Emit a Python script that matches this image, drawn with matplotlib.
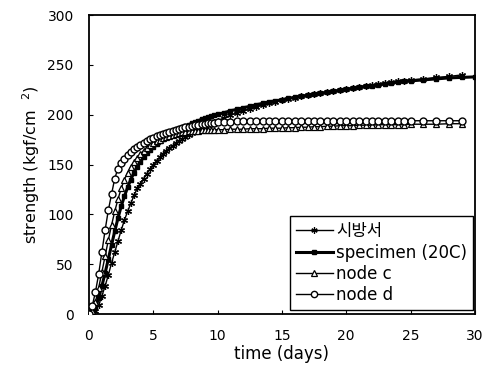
import matplotlib
matplotlib.use("Agg")
import matplotlib.pyplot as plt

plt.rcParams["font.family"] = ["DejaVu Sans", "Noto Sans CJK KR"]

# time (days), shared by all series
t_days = [0, 0.25, 0.5, 0.75, 1, 1.25, 1.5, 1.75, 2, 2.25, 2.5, 2.75, 3, 3.25, 3.5, 3.75,
          4, 4.25, 4.5, 4.75, 5, 5.25, 5.5, 5.75, 6, 6.25, 6.5, 6.75, 7, 7.25, 7.5, 7.75,
          8, 8.25, 8.5, 8.75, 9, 9.25, 9.5, 9.75, 10,
          10.5, 11, 11.5, 12, 12.5, 13, 13.5, 14, 14.5, 15, 15.5, 16, 16.5, 17, 17.5,
          18, 18.5, 19, 19.5, 20, 20.5, 21, 21.5, 22, 22.5, 23, 23.5, 24, 24.5, 25,
          26, 27, 28, 29]

sibangseo = [0, 0, 3, 9, 18, 28, 39, 51, 62, 73, 84, 94, 103, 111, 119, 126,
             131, 136, 141, 145.5, 150, 154, 157.5, 161, 164, 166.5, 169, 171.5, 173.5, 175.5, 177.5, 179.5,
             181.5, 183.5, 185, 186.5, 188, 189.5, 191, 192.5, 194,
             197, 199.5, 202, 204, 206, 208, 210, 211.5, 213, 214.5, 216, 217, 218.5, 219.5, 220.5,
             221.5, 222.5, 223.5, 224.5, 225.5, 226.5, 227.5, 228.5, 229.5, 230.5, 231.5, 232.5, 233.5, 234, 235,
             236, 237.5, 238.5, 240]

t_spec = t_days + [30]
specimen = [0, 1, 6, 16, 28, 41, 55, 69, 83, 96, 108, 118, 127, 135, 142, 148,
            153, 157.5, 161.5, 165, 168, 171, 173.5, 176, 178, 180, 182, 184, 185.5, 187, 188.5, 190,
            191.5, 193, 194, 195.5, 196.5, 197.5, 198.5, 199.5, 200.5,
            202, 204, 205.5, 207, 208.5, 210, 211.5, 213, 214, 215, 216.5, 217.5, 218.5, 219.5, 220.5,
            221.5, 222.5, 223.5, 224.5, 225.5, 226.5, 227.5, 228.5, 229, 230, 231, 232, 232.5, 233.5, 234,
            235, 236, 237, 237.5, 238]

node_c = [0, 3, 12, 26, 42, 58, 74, 89, 103, 115, 126, 135, 142, 148, 153, 157,
          161, 164, 167, 169.5, 171.5, 173.5, 175, 176.5, 178, 179, 180, 181, 182, 182.5, 183, 183.5,
          184, 184, 184, 184.5, 184.5, 184.5, 185, 185, 185,
          185, 185.5, 185.5, 185.5, 186, 186, 186, 186.5, 186.5, 186.5, 187, 187, 187.5, 187.5, 188,
          188, 188.5, 188.5, 189, 189, 189, 189.5, 189.5, 189.5, 190, 190, 190, 190, 190, 190.5,
          190.5, 190.5, 191, 191]

node_d = [0, 8, 22, 40, 62, 84, 104, 120, 136, 146, 152, 156, 160, 163, 166, 168,
          170, 172, 174, 175.5, 177, 178.5, 180, 181, 182, 183, 184, 185, 186, 187, 187.5, 188,
          189, 189.5, 190, 190.5, 191, 191.5, 192, 192, 192.5,
          193, 193, 193.5, 193.5, 193.5, 194, 194, 194, 194, 194, 194, 194, 194, 194, 194,
          194, 194, 194, 194, 194, 194, 194, 194, 194, 194, 194, 194, 194, 194, 194,
          194, 194, 194, 194]

fig = plt.figure(figsize=(4.85, 3.69), dpi=100)
ax = fig.add_axes([0.1835, 0.149, 0.7955, 0.81])

ax.plot(t_days, sibangseo, color="black", lw=1.0, marker=(6, 2, 0), ms=5, mew=0.9,
        label="시방서", zorder=2)
ax.plot(t_spec, specimen, color="black", lw=2.2, marker="s", ms=2.5,
        label="specimen (20C)", zorder=3)
ax.plot(t_days, node_c, color="black", lw=1.0, marker="^", ms=4.5, mfc="white", mew=0.9,
        label="node c", zorder=4)
ax.plot(t_days, node_d, color="black", lw=1.0, marker="o", ms=5, mfc="white", mew=1.0,
        label="node d", zorder=5)

ax.set_xlim(0, 30)
ax.set_ylim(0, 300)
ax.set_xticks([0, 5, 10, 15, 20, 25, 30])
ax.set_yticks([0, 50, 100, 150, 200, 250, 300])
ax.tick_params(direction="in", length=3, width=0.8, labelsize=10, pad=11)
for s in ax.spines.values():
    s.set_linewidth(1.3)

ax.set_xlabel("time (days)", fontsize=12, labelpad=1)
ax.set_ylabel("strength (kgf/cm  $^{2}$)", fontsize=11.5, labelpad=4)

leg = ax.legend(loc="lower right", bbox_to_anchor=(0.995, 0.013), borderaxespad=0,
                fontsize=12, handlelength=2.2, handletextpad=0.2, labelspacing=0.2,
                borderpad=0.35, fancybox=False, framealpha=1, edgecolor="black",
                markerscale=0.9)
leg.get_frame().set_linewidth(1.0)

fig.savefig("out.png", dpi=100)
